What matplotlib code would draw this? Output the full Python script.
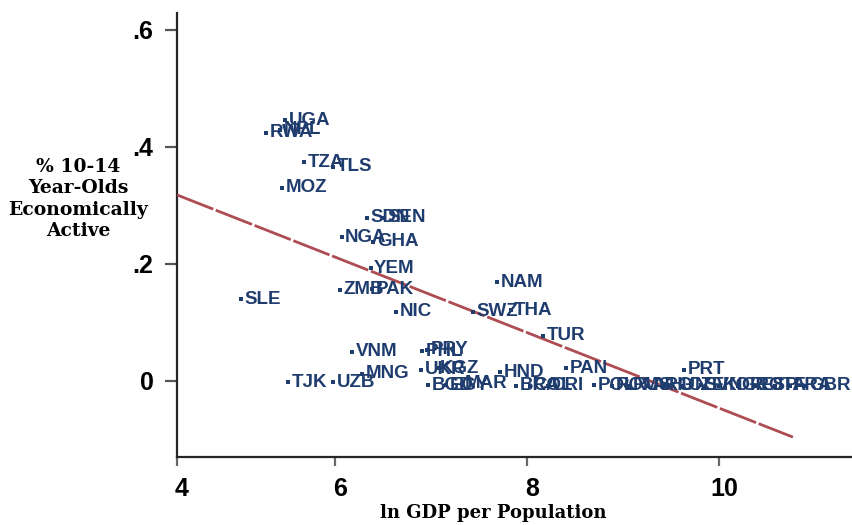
import matplotlib
matplotlib.use("Agg")
import matplotlib.pyplot as plt
import matplotlib.transforms as mtransforms
from matplotlib import font_manager

# ---------------- data ----------------
codes = ["UGA", "RWA", "NPL", "TZA", "TLS", "MOZ", "SDN", "SEN", "NGA", "GHA",
         "YEM", "ZMB", "PAK", "SLE", "NIC", "NAM", "SWZ", "THA", "TUR", "VNM",
         "PHL", "PRY", "TJK", "UZB", "MNG", "UKR", "KGZ", "BGD", "EGY", "MAR",
         "HND", "PAN", "BRA", "COL", "CRI", "POL", "ROM", "RUS", "ARG", "HUN",
         "PRT", "CZE", "SVN", "KOR", "GRC", "ESP", "ITA", "FRA", "GBR"]
ln_gdp = [5.48, 5.28, 5.43, 5.68, 5.98, 5.45, 6.33, 6.51, 6.07, 6.40,
          6.37, 6.05, 6.39, 5.02, 6.64, 7.69, 7.44, 7.83, 8.17, 6.18,
          6.91, 6.96, 5.51, 5.98, 6.28, 6.90, 7.06, 6.97, 7.16, 7.32,
          7.72, 8.41, 7.89, 8.03, 8.22, 8.70, 8.89, 9.07, 9.26, 9.44,
          9.64, 9.63, 9.81, 10.00, 10.20, 10.40, 10.58, 10.74, 10.90]
share = [0.446, 0.424, 0.429, 0.374, 0.366, 0.330, 0.279, 0.279, 0.246, 0.238,
         0.193, 0.156, 0.157, 0.140, 0.118, 0.169, 0.118, 0.121, 0.077, 0.050,
         0.051, 0.053, -0.002, -0.002, 0.012, 0.019, 0.022, -0.007, -0.007, -0.005,
         0.015, 0.022, -0.008, -0.008, -0.008, -0.007, -0.008, -0.008, -0.008, -0.008,
         0.019, -0.008, -0.007, -0.008, -0.008, -0.008, -0.008, -0.008, -0.008]

fit_x = [4.354, 10.77]
fit_y = [0.318, -0.096]

x_ticks = [4.354, 6, 8, 10]
x_ticklabels = ["4", "6", "8", "10"]
y_ticks = [0, 0.2, 0.4, 0.6]
y_ticklabels = ["0", ".2", ".4", ".6"]

# ---------------- fonts ----------------
names = {f.name for f in font_manager.fontManager.ttflist}
sans = "Liberation Sans Narrow" if "Liberation Sans Narrow" in names else "Liberation Sans"
serif = "DejaVu Serif"

navy = "#1f3c6e"
red = "#ad4c52"

fig = plt.figure(figsize=(8.53, 5.25), dpi=100)
W, H = 853, 525
ax = fig.add_axes([177 / W, (H - 457) / H, (853 - 177) / W, (457 - 13) / H])
ax.set_xlim(4.354, 11.396)
ax.set_ylim(-0.130, 0.629)

# fitted line
ax.plot(fit_x, fit_y, color=red, lw=2.0, linestyle=(0, (14, 1.0)), zorder=3)

# points
ax.scatter(ln_gdp, share, s=7, marker="s", color=navy, linewidths=0, zorder=4)
for c, xv, yv in zip(codes, ln_gdp, share):
    ax.annotate(c, (xv, yv), xytext=(2.5, 0), textcoords="offset points",
                ha="left", va="center", color=navy, fontsize=13.5,
                fontweight="bold", family=sans, zorder=5)

# spines
for s in ["top", "right"]:
    ax.spines[s].set_visible(False)
for s in ["left", "bottom"]:
    ax.spines[s].set_color("#262626")
    ax.spines[s].set_linewidth(1.6)

ax.set_xticks(x_ticks)
ax.set_xticklabels(x_ticklabels)
ax.set_yticks(y_ticks)
ax.set_yticklabels(y_ticklabels)
ax.tick_params(axis="x", length=6.5, width=1.6, color="#666666", pad=8)
ax.tick_params(axis="y", length=9, width=1.6, color="#555555", pad=8)
for lab in ax.get_xticklabels() + ax.get_yticklabels():
    lab.set_family(sans)
    lab.set_fontweight("bold")
    lab.set_fontsize(18)
    lab.set_color("black")
offset = mtransforms.ScaledTranslation(5 / 100, 0, fig.dpi_scale_trans)
for lab in ax.get_xticklabels():
    lab.set_transform(lab.get_transform() + offset)

fig.text(78 / W, 1 - 199 / H, "% 10-14\nYear-Olds\nEconomically\nActive",
         ha="center", va="center", family=serif, fontweight="bold",
         fontsize=13.5, linespacing=1.25)
fig.text(493 / W, 1 - 513 / H, "ln GDP per Population", ha="center", va="center",
         family=serif, fontweight="bold", fontsize=13)

fig.savefig("out.png", dpi=100)
